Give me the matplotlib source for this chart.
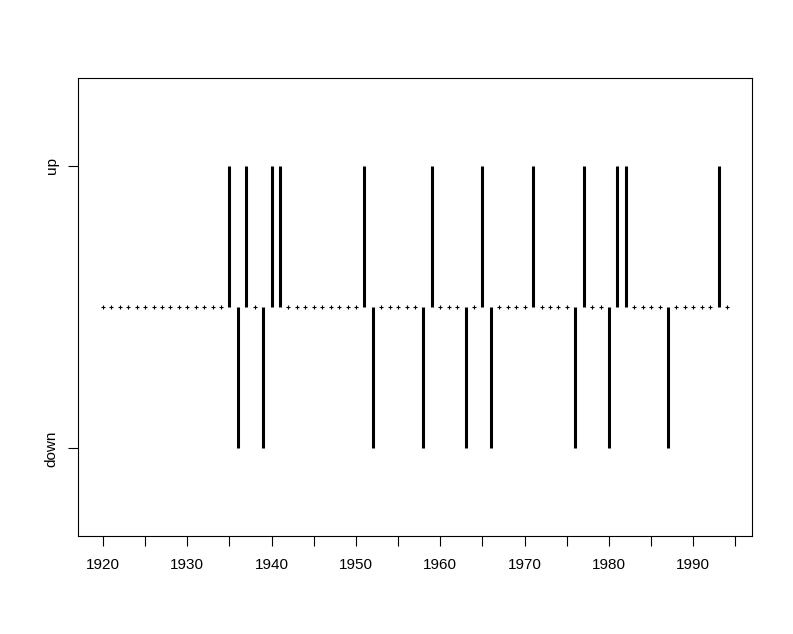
import matplotlib
matplotlib.use("Agg")
import matplotlib.pyplot as plt
import numpy as np

years = list(range(1920, 1995))
up_years = [1935, 1937, 1940, 1941, 1951, 1959, 1965, 1971, 1977, 1981, 1982, 1993]
down_years = [1936, 1939, 1952, 1958, 1963, 1966, 1976, 1980, 1987]
y_tick_labels = ["down", "up"]
x_ticks = list(range(1920, 2000, 5))
x_tick_labels = [str(t) if t % 10 == 0 else "" for t in x_ticks]

plt.rcParams['font.family'] = ['Liberation Sans', 'DejaVu Sans']

fig = plt.figure(figsize=(7.93, 6.34), dpi=100)
ax = fig.add_axes([78/793, 1-536/634, (752-78)/793, (536-78)/634])

vals = np.zeros(len(years))
for y in up_years:
    vals[years.index(y)] = 1
for y in down_years:
    vals[years.index(y)] = -1

flat = [yr for yr, v in zip(years, vals) if v == 0]
ax.plot(flat, np.zeros(len(flat)), linestyle='none', marker='+', markersize=2.6,
        markeredgewidth=0.8, color='black')
ax.vlines([yr for yr, v in zip(years, vals) if v != 0], 0,
          [v for v in vals if v != 0], colors='black', linewidth=2.2, capstyle='butt')

ax.set_xlim(1917.04, 1996.96)
ax.set_ylim(-1.62, 1.62)
ax.set_xticks(x_ticks)
ax.set_xticklabels(x_tick_labels, fontsize=11)
ax.set_yticks([-1, 1])
ax.set_yticklabels(y_tick_labels, fontsize=11, rotation=90, va='center')
ax.tick_params(axis='both', direction='out', length=7, width=0.8)
ax.tick_params(axis='x', pad=9)
ax.tick_params(axis='y', pad=7)
for s in ax.spines.values():
    s.set_linewidth(0.8)

fig.savefig("out.png", dpi=100)
